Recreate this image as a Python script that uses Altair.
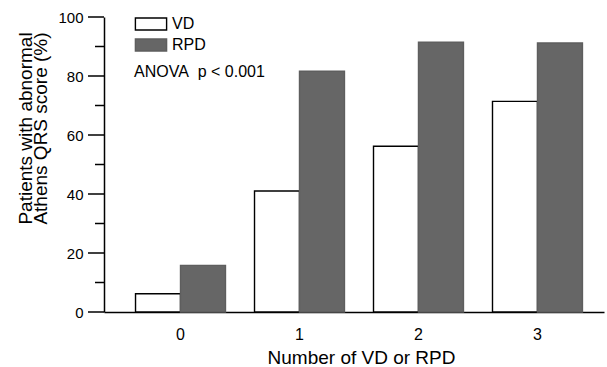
import altair as alt
import pandas as pd

groups = ["0", "1", "2", "3"]
series = ["VD", "RPD"]
vd_values = [6.2, 41.0, 56.2, 71.4]
rpd_values = [15.8, 81.6, 91.5, 91.2]
y_major = [0, 20, 40, 60, 80, 100]
y_minor = [10, 30, 50, 70, 90]
annotation = ["ANOVA\u00a0\u00a0p < 0.001"]

rows = []
for g, v, r in zip(groups, vd_values, rpd_values):
    rows.append({"group": g, "series": "VD", "value": v})
    rows.append({"group": g, "series": "RPD", "value": r})
df = pd.DataFrame(rows)

FONT = "Liberation Sans"
YTITLE = ["Patients with abnormal", "Athens QRS score (%)"]
yscale = alt.Scale(domain=[0, 100], nice=False)

bars = alt.Chart(df).mark_bar(strokeWidth=1.4).encode(
    x=alt.X("group:N", sort=groups,
            scale=alt.Scale(paddingInner=0.244, paddingOuter=0.223, align=0.594),
            axis=alt.Axis(title="Number of VD or RPD", labelAngle=0, ticks=False,
                          tickSize=0, labelPadding=14, labelFontSize=16,
                          titleFontSize=19, titleFontWeight="normal",
                          titleX=257, titleY=51, titleBaseline="alphabetic",
                          domainColor="black", domainWidth=1.5,
                          labelColor="black", titleColor="black")),
    xOffset=alt.XOffset("series:N", sort=series,
                        scale=alt.Scale(paddingInner=0, paddingOuter=0)),
    y=alt.Y("value:Q", scale=yscale, title=YTITLE,
            axis=alt.Axis(values=y_major, ticks=False, tickSize=0,
                          labelPadding=21, labelFontSize=15, labelColor="black",
                          domainColor="black", domainWidth=1.5, grid=False,
                          titleFontSize=19, titleFontWeight="normal",
                          titleColor="black", titleLineHeight=15,
                          titleX=-69, titleY=111, titleAngle=-90,
                          titleAlign="center", titleBaseline="bottom")),
    fill=alt.Fill("series:N", sort=series,
                  scale=alt.Scale(domain=series, range=["#ffffff", "#666666"]),
                  title=None),
    stroke=alt.Stroke("series:N", sort=series,
                      scale=alt.Scale(domain=series, range=["#000000", "#5e5e5e"]),
                      title=None),
)

major = alt.Chart(pd.DataFrame({"value": y_major})).mark_rule(
    color="black", strokeWidth=1.5
).encode(y=alt.Y("value:Q", scale=yscale, title=YTITLE),
         x=alt.value(-16), x2=alt.value(0))

minor = alt.Chart(pd.DataFrame({"value": y_minor})).mark_rule(
    color="black", strokeWidth=1.5
).encode(y=alt.Y("value:Q", scale=yscale, title=YTITLE),
         x=alt.value(-9), x2=alt.value(0))

text = alt.Chart(pd.DataFrame({"t": annotation})).mark_text(
    align="left", baseline="alphabetic", fontSize=16, font=FONT, color="black"
).encode(x=alt.value(30), y=alt.value(59.5), text="t:N")

chart = alt.layer(bars, major, minor, text).properties(
    width=500, height=295,
    autosize=alt.AutoSizeParams(type="none"),
    padding={"left": 104, "top": 17, "right": 3, "bottom": 55},
).configure(font=FONT).configure_view(stroke=None).configure_legend(
    orient="none", legendX=39, legendY=-1, padding=0,
    symbolType="M-2.6,-1H2.6V1H-2.6Z", symbolSize=144, symbolStrokeWidth=1.4,
    symbolOpacity=1, labelFontSize=16, labelColor="black", labelOffset=13,
    rowPadding=3, labelFont=FONT,
)

chart.save("out.html", embed_options={"renderer": "svg", "actions": False})
